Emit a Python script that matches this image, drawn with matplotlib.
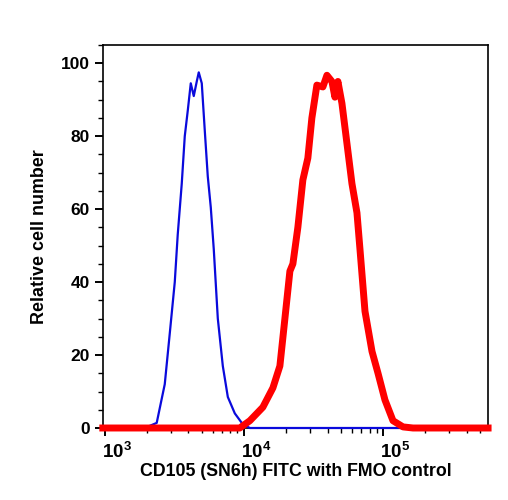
import matplotlib
matplotlib.use('Agg')
import matplotlib.pyplot as plt
import matplotlib.transforms as mtransforms
from matplotlib.ticker import LogLocator, MultipleLocator, NullFormatter

plt.rcParams['font.family'] = ['Liberation Sans', 'DejaVu Sans']
plt.rcParams['font.weight'] = 'bold'
plt.rcParams['mathtext.fontset'] = 'custom'
plt.rcParams['mathtext.rm'] = 'Liberation Sans:bold'
plt.rcParams['mathtext.it'] = 'Liberation Sans:bold'
plt.rcParams['mathtext.bf'] = 'Liberation Sans:bold'

# FMO control (blue), fluorescence intensity vs relative cell number
fmo_x = [970, 1941, 2366, 2703, 2938, 3190, 3350, 3581, 3764, 3955, 4157,
         4368, 4590, 4744, 4987, 5240, 5507, 5788, 6082, 6502, 7063, 7674,
         8616, 9840, 11050, 569000]
fmo_y = [0, 0, 1.4, 12, 26, 40, 53, 67, 80, 87, 94.5,
         91, 95, 97.5, 94.5, 81.6, 69, 60.5, 49, 30, 17, 8.5,
         4, 1, 0, 0]

# CD105 stained (red)
cd105_x = [970, 9350, 11050, 13700, 16180, 18160, 19730, 21430, 22520, 24450,
           26560, 28850, 30830, 33490, 36990, 39550, 42960, 45140, 47430,
           50700, 55080, 59830, 65000, 68330, 74240, 83380, 92100, 103300,
           118000, 139300, 164400, 569000]
cd105_y = [0, 0, 2, 5.7, 11, 17, 30, 43, 45, 55,
           68, 74, 85, 94, 93.5, 96.7, 95, 90.7, 95,
           89, 78, 67, 59, 49, 32, 21, 15, 7.7,
           2, 0.3, 0, 0]

x_ticks = [1e3, 1e4, 1e5]
y_ticks = [0, 20, 40, 60, 80, 100]

fig = plt.figure(figsize=(5.08, 5.0), dpi=100)
ax = fig.add_axes([0.203, 0.144, 0.758, 0.766])

ax.plot(fmo_x, fmo_y, color='#0a0adc', lw=1.6, clip_on=False, zorder=3)
ax.plot(cd105_x, cd105_y, color='#ff0000', lw=5, clip_on=False, zorder=4,
        solid_joinstyle='round')

ax.set_xscale('log')
ax.set_xlim(975, 5.7e5)
ax.set_ylim(0, 105)

ax.xaxis.set_major_locator(LogLocator(base=10, numticks=10))
ax.xaxis.set_minor_locator(LogLocator(base=10, subs=range(2, 10), numticks=20))
ax.xaxis.set_minor_formatter(NullFormatter())
ax.set_xticks(x_ticks)
ax.set_yticks(y_ticks)
ax.yaxis.set_minor_locator(MultipleLocator(5))

ax.tick_params(axis='both', which='major', direction='out', length=6, width=1.4,
               top=False, right=False)
ax.tick_params(axis='y', which='major', labelsize=12.5)
ax.tick_params(axis='x', which='major', labelsize=13.5, pad=4)
ax.tick_params(axis='both', which='minor', direction='out', length=3.5, width=1,
               top=False, right=False)

for s in ax.spines.values():
    s.set_linewidth(1.2)

# shift x labels slightly right like the reference
offset = mtransforms.ScaledTranslation(12 / 100, 0, fig.dpi_scale_trans)
for lbl in ax.get_xticklabels():
    lbl.set_transform(lbl.get_transform() + offset)

ax.set_xlabel('CD105 (SN6h) FITC with FMO control', fontsize=12.8,
              fontweight='bold', labelpad=1)
ax.set_ylabel('Relative cell number', fontsize=12.9, fontweight='bold',
              labelpad=9)

fig.savefig('out.png', dpi=100)
